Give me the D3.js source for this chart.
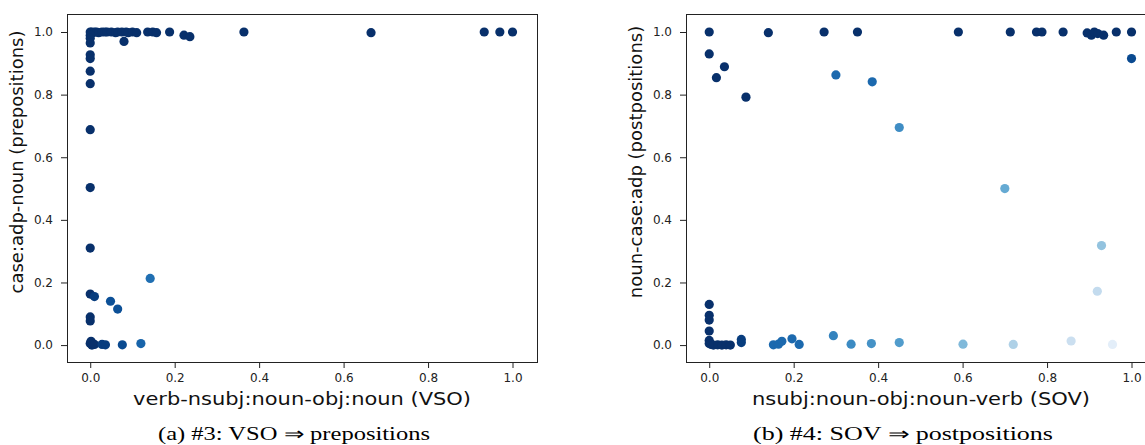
<!DOCTYPE html>
<html>
<head>
<meta charset="utf-8">
<script src="https://cdn.jsdelivr.net/npm/d3@7/dist/d3.min.js"></script>
<style>
  html, body { margin: 0; padding: 0; background: #fff; }
  svg { display: block; }
  .tick text { font-family: "DejaVu Sans", sans-serif; font-size: 12px; fill: #222; }
  .axis-label { font-family: "DejaVu Sans", sans-serif; font-size: 18px; fill: #111; }
  .caption { font-family: "Liberation Serif", "Times New Roman", serif; font-size: 18px; fill: #000; }
</style>
</head>
<body>
<svg id="chart"></svg>
<script>
// ── Data: (a) VSO ⇒ prepositions ──
// x = verb-nsubj:noun-obj:noun, y = case:adp-noun, w = shade in the Blues map
const leftX = [
  0, 0.003, 0.006, 0.01, 0.015, 0.02, 0.028, 0.035, 0.04, 0.05, 0.06, 0.065, 0.075, 0.085, 0.09, 0.1, 0.11,
  0.08, 0.136, 0.148, 0.157, 0.188, 0.222, 0.236, 0.364, 0.665, 0.933, 0.97, 1.0,
  0, 0, 0, 0, 0, 0, 0, 0, 0, 0, 0, 0, 0,
  0.01, 0.048, 0.065, 0.142,
  0, 0.002, 0.004, 0.006, 0.01, 0.028, 0.036, 0.076, 0.12
];
const leftY = [
  1, 1, 0.998, 1, 1, 0.998, 1, 1, 1, 1, 0.998, 1, 1, 1, 0.998, 1, 0.998,
  0.97, 1, 1, 0.998, 1, 0.99, 0.985, 1, 0.998, 1, 1, 1,
  0.99, 0.98, 0.965, 0.927, 0.915, 0.875, 0.835, 0.688, 0.503, 0.31, 0.163, 0.09, 0.077,
  0.155, 0.14, 0.115, 0.213,
  0.005, 0.012, 0, 0.003, 0.002, 0.002, 0.001, 0.001, 0.005
];
const leftW = [
  1, 1, 1, 1, 1, 1, 1, 1, 1, 1, 1, 1, 1, 1, 1, 1, 1,
  1, 1, 1, 1, 1, 1, 1, 1, 1, 1, 1, 1,
  1, 1, 1, 1, 1, 1, 1, 1, 1, 1, 1, 1, 1,
  0.95, 0.88, 0.88, 0.76,
  1, 1, 1, 1, 1, 0.95, 0.95, 0.9, 0.8
];

// ── Data: (b) SOV ⇒ postpositions ──
// x = nsubj:noun-obj:noun-verb, y = noun-case:adp
const rightX = [
  0, 0.14, 0.272, 0.351, 0.59, 0.713, 0.775, 0.788, 0.838, 0.895, 0.905, 0.912, 0.92, 0.934, 0.964, 1.0,
  0, 0.036, 0.017, 0.087, 0.30, 0.386, 0.45, 0.70, 0.929, 1.0, 0.919,
  0, 0, 0, 0, 0, 0, 0.005, 0.01, 0.02, 0.03, 0.04, 0.05, 0.076, 0.076,
  0.152, 0.164, 0.172, 0.196, 0.213, 0.294, 0.336, 0.384, 0.45, 0.601, 0.72, 0.857, 0.955
];
const rightY = [
  1, 0.998, 1, 1, 1, 1, 1, 1, 1, 0.997, 0.99, 1, 0.995, 0.99, 1, 1,
  0.93, 0.889, 0.854, 0.792, 0.863, 0.841, 0.695, 0.5, 0.318, 0.915, 0.172,
  0.13, 0.095, 0.08, 0.045, 0.015, 0.005, 0.002, 0, 0.001, 0, 0.001, 0, 0.018, 0.008,
  0.001, 0.003, 0.012, 0.02, 0.002, 0.03, 0.003, 0.005, 0.008, 0.003, 0.002, 0.013, 0.002
];
const rightW = [
  1, 1, 1, 1, 1, 1, 1, 1, 1, 1, 1, 1, 1, 1, 1, 1,
  1, 1, 1, 1, 0.78, 0.78, 0.64, 0.52, 0.4, 0.9, 0.25,
  1, 1, 1, 1, 1, 1, 1, 1, 1, 1, 1, 1, 0.95, 0.95,
  0.78, 0.78, 0.78, 0.78, 0.78, 0.68, 0.65, 0.62, 0.58, 0.45, 0.32, 0.22, 0.1
];

// ── Tick values ──
const tickValues = [0, 0.2, 0.4, 0.6, 0.8, 1.0];

const panels = [
  {
    xs: leftX, ys: leftY, ws: leftW,
    left: 67,
    xLabel: "verb-nsubj:noun-obj:noun (VSO)",
    yLabel: "case:adp-noun (prepositions)",
    caption: "(a) #3: VSO \u21D2 prepositions",
    capX: 294, capW: 272
  },
  {
    xs: rightX, ys: rightY, ws: rightW,
    left: 686,
    xLabel: "nsubj:noun-obj:noun-verb (SOV)",
    yLabel: "noun-case:adp (postpositions)",
    caption: "(b) #4: SOV \u21D2 postpositions",
    capX: 903, capW: 300
  }
];

// ── Dimensions ──
const width = 1145;
const height = 445;
const frameW = 470;
const frameTop = 14;
const frameBottom = 362;

const svg = d3.select("#chart")
  .attr("width", width)
  .attr("height", height);

const color = d3.scaleSequential(d3.interpolateBlues).domain([0, 1]);
const fmt = d3.format(".1f");

panels.forEach(p => {
  const x = d3.scaleLinear()
    .domain([-0.055, 1.058])
    .range([p.left, p.left + frameW]);
  const y = d3.scaleLinear()
    .domain([-0.054, 1.0575])
    .range([frameBottom, frameTop]);

  const g = svg.append("g");

  // Points
  const pts = d3.range(p.xs.length).map(i => ({ x: p.xs[i], y: p.ys[i], w: p.ws[i] }));
  g.selectAll("circle")
    .data(pts)
    .join("circle")
    .attr("cx", d => x(d.x))
    .attr("cy", d => y(d.y))
    .attr("r", 4.6)
    .attr("fill", d => color(d.w));

  // Axes
  const xAxis = d3.axisBottom(x).tickValues(tickValues).tickFormat(fmt).tickSize(6).tickPadding(5);
  const yAxis = d3.axisLeft(y).tickValues(tickValues).tickFormat(fmt).tickSize(6).tickPadding(8);

  g.append("g")
    .attr("transform", `translate(0,${frameBottom})`)
    .call(xAxis)
    .call(a => a.select(".domain").remove())
    .selectAll("line").attr("stroke", "#222");

  g.append("g")
    .attr("transform", `translate(${p.left},0)`)
    .call(yAxis)
    .call(a => a.select(".domain").remove())
    .selectAll("line").attr("stroke", "#222");

  // Frame
  g.append("rect")
    .attr("x", p.left + 0.5)
    .attr("y", frameTop + 0.5)
    .attr("width", frameW)
    .attr("height", frameBottom - frameTop)
    .attr("fill", "none")
    .attr("stroke", "#222")
    .attr("stroke-width", 1);

  // Labels (the figure is a little stretched sideways, hence textLength)
  const cx = p.left + frameW / 2;
  g.append("text")
    .attr("class", "axis-label")
    .attr("x", cx)
    .attr("y", 405)
    .attr("text-anchor", "middle")
    .attr("textLength", 338)
    .attr("lengthAdjust", "spacingAndGlyphs")
    .text(p.xLabel);

  g.append("text")
    .attr("class", "axis-label")
    .attr("transform", `translate(${p.left - 44},${(frameTop + frameBottom) / 2 - 26}) rotate(-90)`)
    .attr("text-anchor", "middle")
    .text(p.yLabel);

  g.append("text")
    .attr("class", "caption")
    .attr("x", p.capX)
    .attr("y", 440)
    .attr("text-anchor", "middle")
    .attr("textLength", p.capW)
    .attr("lengthAdjust", "spacingAndGlyphs")
    .text(p.caption);
});
</script>
</body>
</html>
